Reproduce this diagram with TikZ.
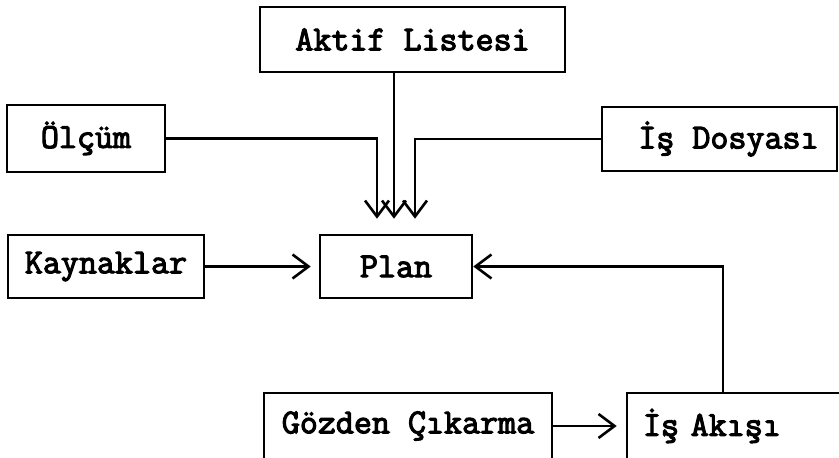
\documentclass[tikz,border=0pt]{standalone}
\usepackage{fontspec}
\newfontfamily\courfont[FakeBold=3.2]{Latin Modern Mono}
\usetikzlibrary{arrows.meta}
\tikzset{
  box/.style={draw, line width=2.6pt, inner sep=0pt, align=center,
    font=\courfont\fontsize{35}{35}\selectfont},
  arr/.style={line width=2.6pt, -{Straight Barb[length=16pt,width=24pt,line width=2.6pt]}}
}
\begin{document}
\begin{tikzpicture}[x=1pt,y=-1pt]
\useasboundingbox (0,0) rectangle (839,458);
\clip (0,0) rectangle (839,458);
\fill[white] (0,0) rectangle (839,458);
\node[box, minimum width=305pt, minimum height=65pt] (aktif) at (412.5,39.5) {Aktif Listesi};
\node[box, minimum width=158pt, minimum height=67pt] (olcum) at (86,138.5) {Ölçüm};
\node[box, minimum width=235pt, minimum height=64pt] (isdos) at (719.5,139) {\hspace*{18pt}İş Dosyası};
\node[box, minimum width=152pt, minimum height=63pt] (plan) at (396,266.5) {Plan};
\node[box, minimum width=196pt, minimum height=63pt] (kay) at (106,266.5) {Kaynaklar};
\node[box, minimum width=288pt, minimum height=66pt] (goz) at (408,426) {Gözden Çıkarma};
\node[box, minimum height=66pt, text width=191pt, align=left, inner xsep=16pt] (isak) at (738.5,426) {İş Akışı};
% connectors
\draw[arr, shorten >=15pt] (olcum.east) -| ([xshift=-19pt]plan.north);
\draw[arr, shorten >=15pt] ([xshift=-2pt]plan.north |- aktif.south) -- ([xshift=-2pt]plan.north);
\draw[arr, shorten >=15pt] (isdos.west) -| ([xshift=19pt]plan.north);
\draw[arr, shorten >=8pt] (kay.east) -- (plan.west);
\draw[arr] ([xshift=-15.5pt]isak.north) |- (plan.east);
\draw[arr, shorten >=9pt] (goz.east) -- (isak.west);
\end{tikzpicture}
\end{document}
